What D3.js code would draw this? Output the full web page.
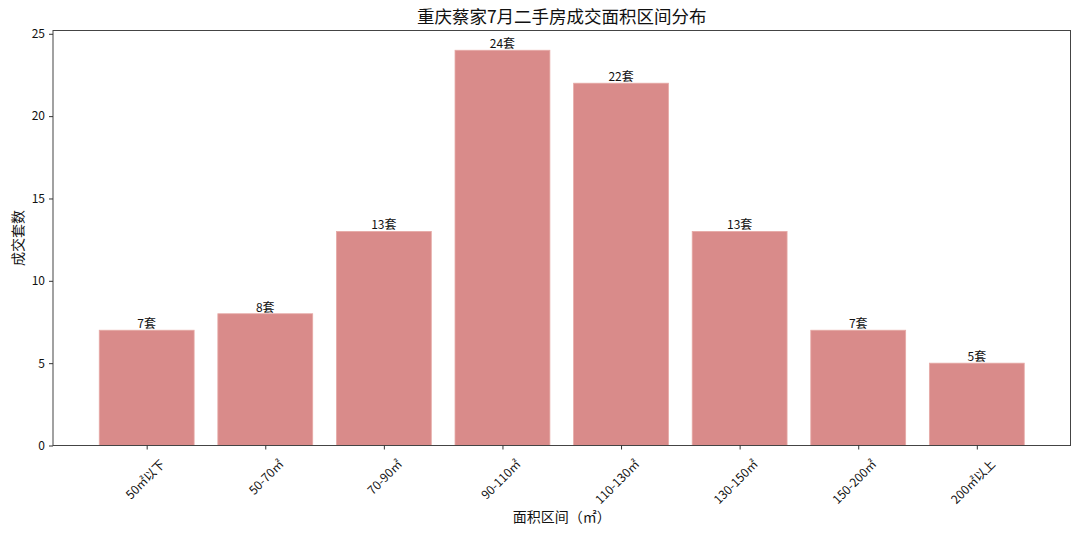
<!DOCTYPE html>
<html><head><meta charset="utf-8">
<script src="https://cdn.jsdelivr.net/npm/d3@7"></script>
<style>body{margin:0;background:#fff;} svg{font-family:"Noto Sans CJK SC","Noto Sans",sans-serif;}</style>
</head><body>
<svg id="c" width="1080" height="535"></svg>
<script>
const categories = ["50㎡以下","50-70㎡","70-90㎡","90-110㎡","110-130㎡","130-150㎡","150-200㎡","200㎡以上"];
const counts = [7, 8, 13, 24, 22, 13, 7, 5];
const yTicks = [0, 5, 10, 15, 20, 25];
const title = "重庆蔡家7月二手房成交面积区间分布";
const xTitle = "面积区间（㎡）";
const yTitle = "成交套数";

const svg = d3.select("#c");
const L = 53, R = 1070.5, T = 30.5, B = 445.5;
const n = categories.length;
const x = d3.scaleLinear().domain([-0.79, n - 1 + 0.79]).range([L, R]);
const y = d3.scaleLinear().domain([0, d3.max(counts) * 1.05]).range([B, T]);
const bw = x(0.8) - x(0);

svg.append("g").selectAll("rect").data(counts).join("rect")
  .attr("x", (d, i) => x(i) - bw / 2)
  .attr("y", d => y(d))
  .attr("width", bw)
  .attr("height", d => y(0) - y(d))
  .attr("fill", "#d98b8a")
  .attr("stroke", "#e6aaa6").attr("stroke-width", 0.8);

svg.append("g").selectAll("text").data(counts).join("text")
  .attr("x", (d, i) => x(i))
  .attr("y", d => y(d) - 2)
  .attr("text-anchor", "middle")
  .attr("font-size", 12).attr("fill", "#111")
  .text(d => d + "套");

// frame
svg.append("rect").attr("x", L).attr("y", T).attr("width", R - L).attr("height", B - T)
  .attr("fill", "none").attr("stroke", "#444").attr("stroke-width", 1);

const yAxis = svg.append("g").attr("transform", `translate(${L},0)`)
  .call(d3.axisLeft(y).tickValues(yTicks).tickSize(4).tickPadding(4));
yAxis.select(".domain").remove();
yAxis.selectAll("line").attr("stroke", "#333");
yAxis.selectAll("text").attr("font-size", 12).attr("fill", "#111")
  .attr("font-family", "'Noto Sans CJK SC','Noto Sans',sans-serif");

const xAxis = svg.append("g").attr("transform", `translate(0,${B})`)
  .call(d3.axisBottom(x).tickValues(d3.range(n)).tickFormat(i => categories[i]).tickSize(4).tickPadding(4));
xAxis.select(".domain").remove();
xAxis.selectAll("line").attr("stroke", "#333");
xAxis.selectAll("text")
  .attr("font-size", 12).attr("fill", "#111")
  .attr("font-family", "'Noto Sans CJK SC','Noto Sans',sans-serif")
  .attr("text-anchor", "end")
  .attr("dy", "0.35em")
  .attr("transform", "translate(10,11) rotate(-45)");

svg.append("text").attr("x", (L + R) / 2).attr("y", 23).attr("text-anchor", "middle")
  .attr("font-size", 17.5).attr("fill", "#111").text(title);
svg.append("text").attr("x", (L + R) / 2).attr("y", 522).attr("text-anchor", "middle")
  .attr("font-size", 14).attr("fill", "#111").text(xTitle);
svg.append("text").attr("transform", `translate(23,${(T + B) / 2}) rotate(-90)`)
  .attr("text-anchor", "middle").attr("font-size", 14).attr("fill", "#111").text(yTitle);
</script>
</body></html>
